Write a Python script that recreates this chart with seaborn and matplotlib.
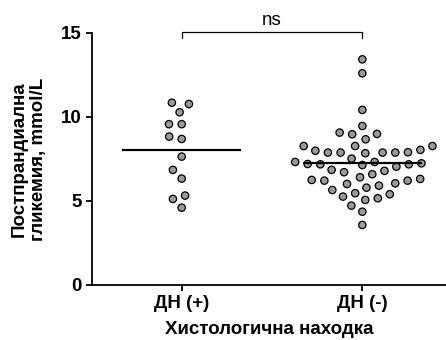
import matplotlib
matplotlib.use("Agg")
import matplotlib.pyplot as plt
import pandas as pd
import seaborn as sns

# Categories and measured values (mmol/L)
groups = ["ДН (+)", "ДН (-)"]
dn_pos = [10.85, 10.77, 10.28, 9.57, 9.57, 8.83, 8.69, 7.64, 6.85, 6.33,
          5.32, 5.12, 4.60]
dn_neg = [13.43, 12.60, 10.42, 9.46, 8.97, 8.99, 9.07, 8.67,
          7.90, 7.88, 8.27, 7.84, 8.27, 7.99, 8.04, 8.27, 7.88, 7.88, 7.88,
          7.18, 7.18, 7.04, 7.32, 7.32, 7.52, 7.20, 7.14, 7.24,
          6.79, 6.59, 6.71, 6.85,
          6.31, 6.21, 6.05, 5.91, 5.79, 6.01, 6.21, 6.25, 6.41,
          5.65, 5.40, 5.16, 5.26, 5.06, 5.46,
          4.72, 4.36, 3.57]
y_ticks = [0, 5, 10, 15]
x_title = "Хистологична находка"
y_title = "Постпрандиална\nгликемия, mmol/L"
sig_label = "ns"

df = pd.DataFrame({
    "group": [groups[0]] * len(dn_pos) + [groups[1]] * len(dn_neg),
    "value": dn_pos + dn_neg,
})

sns.set_style("ticks")
plt.rcParams["font.family"] = ["Liberation Sans", "DejaVu Sans"]
plt.rcParams["text.color"] = "black"
plt.rcParams["axes.labelcolor"] = "black"

fig = plt.figure(figsize=(4.46, 3.40), dpi=100)
ax = fig.add_axes([0.206, 0.162, 0.794, 0.741])

# swarm laid out with a wide spacing, markers shrunk afterwards
sns.swarmplot(data=df, x="group", y="value", order=groups, ax=ax,
              color="#9a9a9a", edgecolor="black", linewidth=0.9, size=7.8)

# mean bars
means = df.groupby("group")["value"].mean().reindex(groups)
for i, m in enumerate(means):
    ax.hlines(m, i - 0.33, i + 0.33, color="black", lw=1.6, zorder=5)

ax.set_xlim(-0.497, 1.463)
ax.set_ylim(0, 15)
ax.set_yticks(y_ticks)
ax.set_xlabel(x_title, fontsize=13.5, fontweight="bold", labelpad=6)
ax.set_ylabel(y_title, fontsize=13.5, fontweight="bold", labelpad=10,
              linespacing=1.15)
ax.tick_params(direction="out", length=4, width=1.3, labelsize=13.5,
               colors="black")
for lab in ax.get_xticklabels() + ax.get_yticklabels():
    lab.set_fontweight("bold")
for side in ["top", "right"]:
    ax.spines[side].set_visible(False)
for side in ["left", "bottom"]:
    ax.spines[side].set_linewidth(1.3)
    ax.spines[side].set_color("black")

# significance bracket
ax.plot([0, 0, 1, 1], [14.68, 15.05, 15.05, 14.68], color="black", lw=0.9,
        clip_on=False)
ax.text(0.5, 15.45, sig_label, ha="center", va="baseline", fontsize=13.5)

# fix the swarm positions, then reduce the marker size
fig.canvas.draw()
for coll in ax.collections:
    if "draw" in coll.__dict__:
        del coll.draw
        coll.set_sizes([5.3 ** 2] * len(coll.get_offsets()))

fig.savefig("out.png", dpi=100)
